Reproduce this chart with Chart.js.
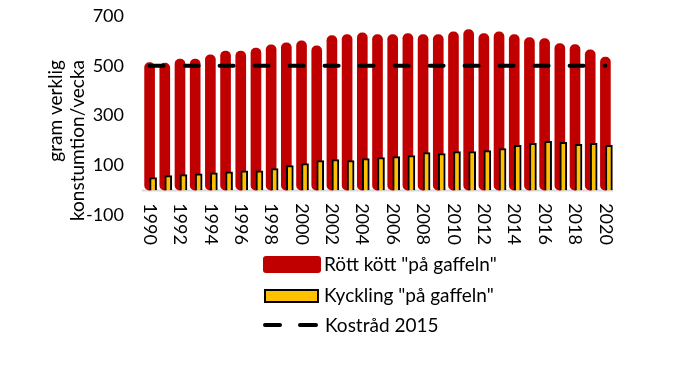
<!DOCTYPE html>
<html><head><meta charset="utf-8">
<script src="https://cdn.jsdelivr.net/npm/chart.js@4.4.1/dist/chart.umd.min.js"></script>
<style>html,body{margin:0;padding:0;background:#fff;overflow:hidden}#wrap{width:673px;height:379px}</style>
</head><body><div id="wrap"><canvas id="c" width="673" height="379"></canvas></div>
<script>
const years = ['1990','1991','1992','1993','1994','1995','1996','1997','1998','1999','2000','2001','2002','2003','2004','2005','2006','2007','2008','2009','2010','2011','2012','2013','2014','2015','2016','2017','2018','2019','2020'];
const xTickLabels = ['1990','1992','1994','1996','1998','2000','2002','2004','2006','2008','2010','2012','2014','2016','2018','2020'];
const redMeat = [513,511,527,527,544,559,559,571,584,592,600,580,621,625,632,625,625,629,625,625,636,645,629,636,625,613,609,589,585,564,535];
const chicken = [50,58,62,66,70,74,78,78,87,99,107,119,123,119,127,131,135,139,151,147,155,155,159,167,180,188,196,192,184,188,180];
const guideline = [500,500,500,500,500,500,500,500,500,500,500,500,500,500,500,500,500,500,500,500,500,500,500,500,500,500,500,500,500,500,500];
const yTicks = [-100,100,300,500,700];
const seriesNames = ['Rött kött "på gaffeln"','Kyckling "på gaffeln"','Kostråd 2015'];
const yTitleLines = ['gram verklig','konstumtion/vecka'];

const FONT = 'Lato, "Open Sans", sans-serif';
const RED = '#C00000', YEL = '#FFC000';

const custom = {
  id: 'custom',
  beforeDatasetsDraw(chart) {
    const {ctx, chartArea: a, scales: {y}} = chart;
    const y0 = Math.round(y.getPixelForValue(0)) + 0.5;
    ctx.save();
    ctx.strokeStyle = '#d9d9d9'; ctx.lineWidth = 2;
    ctx.beginPath(); ctx.moveTo(a.left, y0); ctx.lineTo(a.right, y0); ctx.stroke();
    ctx.restore();
  },
  afterDraw(chart) {
    const {ctx, scales: {x, y}} = chart;
    ctx.save();
    ctx.fillStyle = '#000';
    ctx.font = '18px ' + FONT;
    const y0 = y.getPixelForValue(0);
    xTickLabels.forEach(lab => {
      const i = years.indexOf(lab);
      const px = x.getPixelForValue(i);
      ctx.save();
      ctx.translate(px, y0 + 13);
      ctx.rotate(Math.PI / 2);
      ctx.textAlign = 'left'; ctx.textBaseline = 'middle';
      ctx.fillText(lab, 0, 0);
      ctx.restore();
    });
    ctx.font = '19px ' + FONT;
    const tx = [56, 78];
    yTitleLines.forEach((t, k) => {
      ctx.save();
      ctx.translate(tx[k], 60);
      ctx.rotate(-Math.PI / 2);
      ctx.textAlign = 'right'; ctx.textBaseline = 'middle';
      ctx.fillText(t, 0, 0);
      ctx.restore();
    });
    const ds = chart.data.datasets;
    const red = ds.find(d => d.label === seriesNames[0]);
    const yel = ds.find(d => d.label === seriesNames[1]);
    const line = ds.find(d => d.label === seriesNames[2]);
    ctx.textAlign = 'left'; ctx.textBaseline = 'middle';
    ctx.fillStyle = red.backgroundColor;
    ctx.beginPath(); ctx.roundRect(263, 256, 58, 17, 3); ctx.fill();
    ctx.fillStyle = '#000'; ctx.fillText(red.label, 324, 265);
    ctx.fillStyle = yel.backgroundColor; ctx.strokeStyle = yel.borderColor; ctx.lineWidth = 2;
    ctx.fillRect(265, 290, 53, 12); ctx.strokeRect(265, 290, 53, 12);
    ctx.fillStyle = '#000'; ctx.fillText(yel.label, 324, 296);
    ctx.strokeStyle = line.borderColor; ctx.lineWidth = 4; ctx.lineCap = 'round';
    ctx.beginPath(); ctx.moveTo(265, 325); ctx.lineTo(280, 325); ctx.moveTo(300, 325); ctx.lineTo(316, 325); ctx.stroke();
    ctx.fillStyle = '#000'; ctx.fillText(line.label, 325, 326);
    ctx.restore();
  }
};

new Chart(document.getElementById('c'), {
  type: 'bar',
  data: {
    labels: years,
    datasets: [
      { type: 'line', label: seriesNames[2], data: guideline, order: 0,
        borderColor: '#000', borderWidth: 4, borderDash: [14, 21], borderCapStyle: 'round',
        pointRadius: 0, fill: false, tension: 0 },
      { label: 'spacer', data: years.map(() => null), order: 1, stack: 'a',
        backgroundColor: 'rgba(0,0,0,0)', barThickness: 7, grouped: true },
      { label: seriesNames[1], data: chicken, order: 1, stack: 'b',
        backgroundColor: YEL, borderColor: '#000', borderWidth: 2, barThickness: 7, grouped: true },
      { label: seriesNames[0], data: redMeat, order: 2,
        backgroundColor: RED, barThickness: 10, borderRadius: 5, borderSkipped: false, grouped: false }
    ]
  },
  options: {
    responsive: false, animation: false, devicePixelRatio: 1,
    layout: { padding: { top: 16, right: 60, bottom: 164, left: 0 } },
    plugins: { legend: { display: false }, tooltip: { enabled: false } },
    scales: {
      x: { display: false, offset: true },
      y: {
        min: -100, max: 700,
        afterFit(s) { s.width = 142; s.paddingTop = 0; s.paddingBottom = 0; },
        afterBuildTicks(s) { s.ticks = yTicks.map(v => ({ value: v })); },
        grid: { display: false, drawTicks: false },
        border: { display: false },
        ticks: { padding: 18, color: '#000', font: { family: FONT, size: 18 } }
      }
    }
  },
  plugins: [custom]
});
</script></body></html>
